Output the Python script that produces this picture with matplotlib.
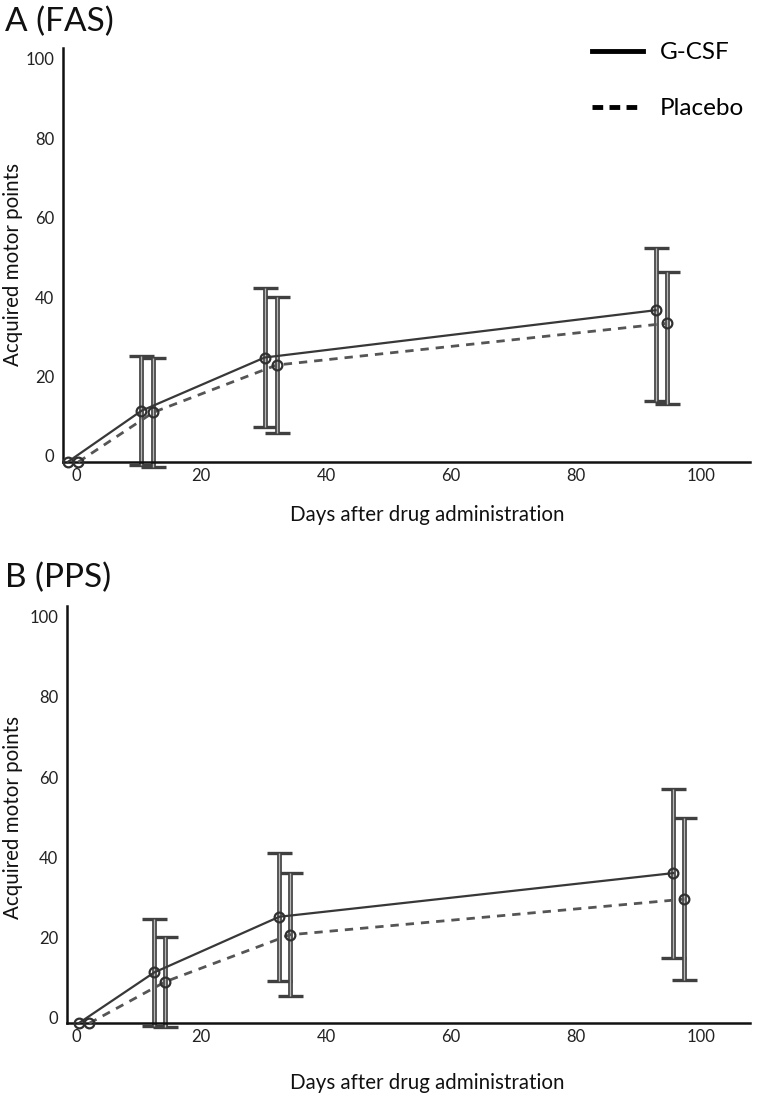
import matplotlib
matplotlib.use('Agg')
import matplotlib.pyplot as plt
from matplotlib.lines import Line2D
from matplotlib.transforms import ScaledTranslation

plt.rcParams['font.family'] = ['Lato', 'DejaVu Sans']

# panel A (FAS)
a_gcsf_days = [-1.3, 10.5, 30.2, 92.7]
a_gcsf_mean = [0, 12.9, 26.3, 38.2]
a_gcsf_lo = [0, 13.7, 17.4, 22.8]
a_gcsf_hi = [0, 13.7, 17.4, 15.6]
a_plac_days = [0.4, 12.4, 32.1, 94.5]
a_plac_mean = [0, 12.5, 24.4, 34.9]
a_plac_lo = [0, 13.8, 17.2, 20.3]
a_plac_hi = [0, 13.8, 17.2, 12.9]

# panel B (PPS)
b_gcsf_days = [0.4, 12.5, 32.5, 95.5]
b_gcsf_mean = [0, 12.7, 26.6, 37.5]
b_gcsf_lo = [0, 13.4, 16.0, 21.1]
b_gcsf_hi = [0, 13.4, 16.0, 21.1]
b_plac_days = [2.1, 14.3, 34.2, 97.3]
b_plac_mean = [0, 10.4, 22.1, 31.0]
b_plac_lo = [0, 11.2, 15.4, 20.3]
b_plac_hi = [0, 11.2, 15.4, 20.3]

xticks = [0, 20, 40, 60, 80, 100]
yticks = [0, 20, 40, 60, 80, 100]

W, H = 760, 1098
fig = plt.figure(figsize=(W / 100, H / 100), dpi=100)

def px_axes(l, t, r, b):
    return fig.add_axes([l / W, 1 - b / H, (r - l) / W, (b - t) / H])

def unclip(cont):
    for part in cont.lines:
        if part is None:
            continue
        items = part if isinstance(part, (tuple, list)) else [part]
        for it in items:
            it.set_clip_on(False)

def bars(ax, d, m, lo, hi):
    # hollow-looking error bars: thick dark stroke, thin light core
    c1 = ax.errorbar(d[1:], m[1:], yerr=[lo[1:], hi[1:]], fmt='none', ecolor='#404040',
                     elinewidth=3.4, capsize=9, capthick=2.4, zorder=2)
    c2 = ax.errorbar(d[1:], m[1:], yerr=[lo[1:], hi[1:]], fmt='none', ecolor='#b8b8b8',
                     elinewidth=1.0, capsize=0, zorder=2.1)
    unclip(c1)
    unclip(c2)

def draw(ax, g, p, xlo, xl_pos, yl_pos):
    bars(ax, *g)
    bars(ax, *p)
    ax.plot(g[0], g[1], '-', color='#383838', lw=1.6, marker='o', ms=7,
            mfc='none', mec='#303030', mew=1.6, zorder=3, clip_on=False)
    ax.plot(p[0], p[1], '--', color='#555555', lw=2.0, dashes=(3, 2.5), marker='o', ms=7,
            mfc='none', mec='#303030', mew=1.6, zorder=3, clip_on=False)
    ax.set_xlim(xlo, 107.8)
    ax.set_ylim(0, 104.2)
    ax.set_xticks(xticks)
    ax.set_yticks(yticks)
    ax.tick_params(length=0, labelsize=12, colors='#222222', pad=6)
    ax.tick_params(axis='x', pad=4)
    for s in ['top', 'right']:
        ax.spines[s].set_visible(False)
    for s in ['left', 'bottom']:
        ax.spines[s].set_linewidth(1.8)
        ax.spines[s].set_color('#111111')
    off = ScaledTranslation(0, 6 / 100, fig.dpi_scale_trans)
    for lab in ax.get_yticklabels():
        lab.set_transform(lab.get_transform() + off)
    ax.set_xlabel('Days after drug administration', fontsize=14.8, color='#111111')
    ax.set_ylabel('Acquired motor points', fontsize=14.8, color='#111111')
    ax.xaxis.set_label_coords(*xl_pos)
    ax.yaxis.set_label_coords(*yl_pos)

ax1 = px_axes(62.7, 48, 750, 462)
draw(ax1, (a_gcsf_days, a_gcsf_mean, a_gcsf_lo, a_gcsf_hi),
     (a_plac_days, a_plac_mean, a_plac_lo, a_plac_hi), -2.1, (0.53, -0.104), (-0.058, 0.478))

ax2 = px_axes(66.7, 606, 750, 1023.3)
draw(ax2, (b_gcsf_days, b_gcsf_mean, b_gcsf_lo, b_gcsf_hi),
     (b_plac_days, b_plac_mean, b_plac_lo, b_plac_hi), -1.5, (0.527, -0.12), (-0.064, 0.494))

fig.text(5 / W, 1 - 22 / H, 'A (FAS)', fontsize=24, va='center', ha='left', color='#111111')
fig.text(5 / W, 1 - 578 / H, 'B (PPS)', fontsize=24, va='center', ha='left', color='#111111')

handles = [Line2D([], [], color='black', lw=3.5),
           Line2D([], [], color='black', lw=3.5, ls=(0, (2.2, 1.3)))]
fig.legend(handles, ['G-CSF', 'Placebo'], loc='upper left',
           bbox_to_anchor=(592 / W, 1 - 42 / H), frameon=False, fontsize=17.5,
           handlelength=2.1, handletextpad=0.7, labelspacing=1.45,
           borderpad=0, borderaxespad=0)

fig.savefig('out.png', dpi=100)
